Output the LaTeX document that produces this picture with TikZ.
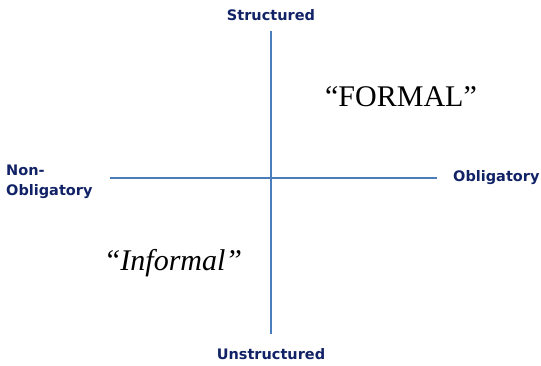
\documentclass[tikz,border=0pt]{standalone}
\usepackage{fontspec}
\newfontfamily\lblfont{DejaVu Sans}
\newfontfamily\serfont{Liberation Serif}
\definecolor{axisblue}{RGB}{74,126,187}
\definecolor{navy}{RGB}{17,34,102}
\begin{document}
\begin{tikzpicture}[x=1pt,y=-1pt,
  axis/.style={draw=axisblue,line width=1.5pt},
  lbl/.style={text=navy,font=\lblfont\bfseries\fontsize{14.5}{20}\selectfont,inner sep=0pt}]
\useasboundingbox (0,0) rectangle (541,366);
\coordinate (top) at (271,31);
\coordinate (bot) at (271,334);
\coordinate (lft) at (110,178);
\coordinate (rgt) at (437,178);
\draw[axis] (top) -- (bot);
\draw[axis] (lft) -- (rgt);
\node[lbl] (s) at (271,15) {Structured};
\node[lbl] (u) at (271,354) {Unstructured};
\node[lbl,anchor=west] (o) at (453,178) {Obligatory};
\node[lbl,anchor=west,align=left] (n) at (6,182) {Non-\\Obligatory};
\node[inner sep=0pt,font=\serfont\fontsize{30}{36}\selectfont] (f) at (401,97) {“FORMAL”};
\node[inner sep=0pt,font=\serfont\itshape\fontsize{30}{36}\selectfont] (i) at (173,263) {“Informal”};
\end{tikzpicture}
\end{document}
